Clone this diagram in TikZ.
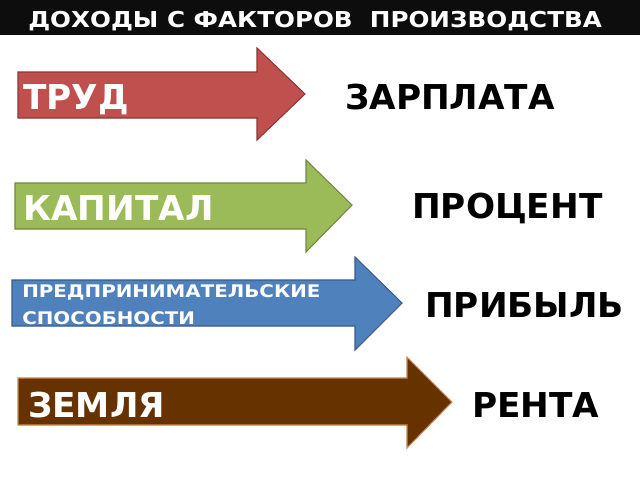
\documentclass[tikz,border=0pt]{standalone}
\usepackage{graphicx}
\usepackage{fontspec}
\setmainfont{DejaVu Sans}
\definecolor{hdr}{HTML}{0D0D0D}
\definecolor{rfill}{HTML}{C0504D}
\definecolor{rdraw}{HTML}{8C3836}
\definecolor{gfill}{HTML}{9BBB59}
\definecolor{gdraw}{HTML}{71893F}
\definecolor{bfill}{HTML}{4F81BD}
\definecolor{bdraw}{HTML}{385D8A}
\definecolor{nfill}{HTML}{663300}
\definecolor{ndraw}{HTML}{C98A50}
\tikzset{
  arr/.style={line width=0.8pt, line join=miter},
  big/.style={font=\fontsize{25.7pt}{30pt}\selectfont\bfseries, inner sep=0pt, anchor=base west},
  inarrow/.style={big, text=white},
  outword/.style={big, text=black},
  small/.style={font=\fontsize{13pt}{19.9pt}\selectfont\bfseries, inner sep=0pt, text=white, anchor=base west, align=left},
  hdrtext/.style={font=\fontsize{16.4pt}{18pt}\selectfont\bfseries, inner sep=0pt, text=white, anchor=base west}
}
\begin{document}
\begin{tikzpicture}[x=0.75pt,y=-0.75pt]
\useasboundingbox (0,0) rectangle (640,480);
\fill[white] (0,0) rectangle (640,480);
% header
\fill[hdr] (0,0) rectangle (640,35);
\node[hdrtext] (title) at (28,27) {\scalebox{1.126}[1]{ДОХОДЫ С ФАКТОРОВ\ \ ПРОИЗВОДСТВА}};
% arrows
\draw[arr, fill=rfill, draw=rdraw] (18,72) -- (257,72) -- (257,48) -- (305,94) -- (257,140) -- (257,118) -- (18,118) -- cycle;
\draw[arr, fill=gfill, draw=gdraw] (15,183) -- (306,183) -- (306,160) -- (352,205) -- (306,252) -- (306,229) -- (15,229) -- cycle;
\draw[arr, fill=bfill, draw=bdraw] (12,280) -- (355,280) -- (355,257) -- (402,303) -- (355,350) -- (355,326) -- (12,326) -- cycle;
\draw[arr, fill=nfill, draw=ndraw] (18,378) -- (407,378) -- (407,357) -- (452,402) -- (407,448) -- (407,425) -- (18,425) -- cycle;
% labels in arrows
\node[inarrow] (trud) at (23,109) {ТРУД};
\node[inarrow] (kapital) at (23,220) {КАПИТАЛ};
\node[small] (pred) at (22,297) {\scalebox{1.145}[1]{ПРЕДПРИНИМАТЕЛЬСКИЕ}};
\node[small] (spos) at (22,324) {\scalebox{1.145}[1]{СПОСОБНОСТИ}};
\node[inarrow] (zemlya) at (28,417) {ЗЕМЛЯ};
% incomes
\node[outword] (zarplata) at (345,109) {ЗАРПЛАТА};
\node[outword] (procent) at (412,218) {ПРОЦЕНТ};
\node[outword] (pribyl) at (425,317) {ПРИБЫЛЬ};
\node[outword] (renta) at (472,417) {РЕНТА};
\end{tikzpicture}
\end{document}
